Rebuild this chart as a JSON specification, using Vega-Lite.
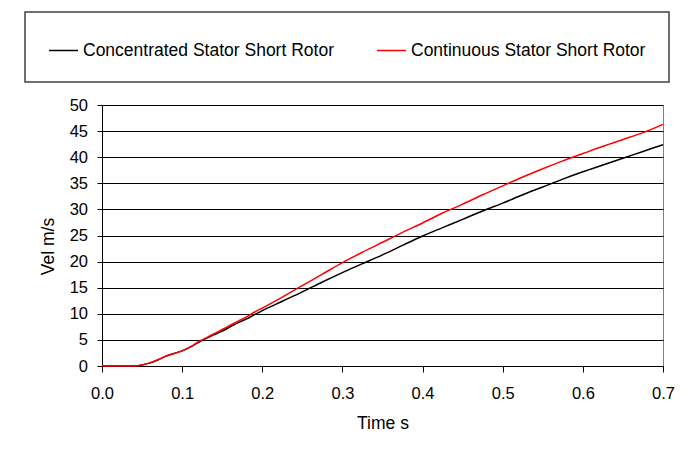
{
  "$schema": "https://vega.github.io/schema/vega-lite/v6.json",
  "width": 561,
  "height": 261,
  "autosize": {"type": "none"},
  "padding": {"left": 102, "top": 105, "right": 31, "bottom": 84},
  "background": "white",
  "data": {
    "values": [
      {"t": 0.000, "v": 0, "s": "Concentrated Stator Short Rotor"},
      {"t": 0.040, "v": 0, "s": "Concentrated Stator Short Rotor"},
      {"t": 0.045, "v": 0.05, "s": "Concentrated Stator Short Rotor"},
      {"t": 0.050, "v": 0.2, "s": "Concentrated Stator Short Rotor"},
      {"t": 0.060, "v": 0.6, "s": "Concentrated Stator Short Rotor"},
      {"t": 0.070, "v": 1.2, "s": "Concentrated Stator Short Rotor"},
      {"t": 0.080, "v": 1.9, "s": "Concentrated Stator Short Rotor"},
      {"t": 0.090, "v": 2.4, "s": "Concentrated Stator Short Rotor"},
      {"t": 0.100, "v": 2.9, "s": "Concentrated Stator Short Rotor"},
      {"t": 0.110, "v": 3.6, "s": "Concentrated Stator Short Rotor"},
      {"t": 0.120, "v": 4.5, "s": "Concentrated Stator Short Rotor"},
      {"t": 0.130, "v": 5.3, "s": "Concentrated Stator Short Rotor"},
      {"t": 0.140, "v": 6.0, "s": "Concentrated Stator Short Rotor"},
      {"t": 0.150, "v": 6.7, "s": "Concentrated Stator Short Rotor"},
      {"t": 0.160, "v": 7.5, "s": "Concentrated Stator Short Rotor"},
      {"t": 0.170, "v": 8.3, "s": "Concentrated Stator Short Rotor"},
      {"t": 0.180, "v": 9.0, "s": "Concentrated Stator Short Rotor"},
      {"t": 0.190, "v": 9.8, "s": "Concentrated Stator Short Rotor"},
      {"t": 0.200, "v": 10.6, "s": "Concentrated Stator Short Rotor"},
      {"t": 0.225, "v": 12.4, "s": "Concentrated Stator Short Rotor"},
      {"t": 0.250, "v": 14.2, "s": "Concentrated Stator Short Rotor"},
      {"t": 0.275, "v": 16.1, "s": "Concentrated Stator Short Rotor"},
      {"t": 0.300, "v": 17.9, "s": "Concentrated Stator Short Rotor"},
      {"t": 0.325, "v": 19.6, "s": "Concentrated Stator Short Rotor"},
      {"t": 0.350, "v": 21.3, "s": "Concentrated Stator Short Rotor"},
      {"t": 0.375, "v": 23.1, "s": "Concentrated Stator Short Rotor"},
      {"t": 0.400, "v": 24.9, "s": "Concentrated Stator Short Rotor"},
      {"t": 0.425, "v": 26.5, "s": "Concentrated Stator Short Rotor"},
      {"t": 0.450, "v": 28.1, "s": "Concentrated Stator Short Rotor"},
      {"t": 0.475, "v": 29.7, "s": "Concentrated Stator Short Rotor"},
      {"t": 0.500, "v": 31.2, "s": "Concentrated Stator Short Rotor"},
      {"t": 0.525, "v": 32.8, "s": "Concentrated Stator Short Rotor"},
      {"t": 0.550, "v": 34.3, "s": "Concentrated Stator Short Rotor"},
      {"t": 0.575, "v": 35.8, "s": "Concentrated Stator Short Rotor"},
      {"t": 0.600, "v": 37.2, "s": "Concentrated Stator Short Rotor"},
      {"t": 0.625, "v": 38.5, "s": "Concentrated Stator Short Rotor"},
      {"t": 0.650, "v": 39.8, "s": "Concentrated Stator Short Rotor"},
      {"t": 0.675, "v": 41.1, "s": "Concentrated Stator Short Rotor"},
      {"t": 0.700, "v": 42.4, "s": "Concentrated Stator Short Rotor"},
      {"t": 0.000, "v": 0, "s": "Continuous Stator Short Rotor"},
      {"t": 0.040, "v": 0, "s": "Continuous Stator Short Rotor"},
      {"t": 0.045, "v": 0.05, "s": "Continuous Stator Short Rotor"},
      {"t": 0.050, "v": 0.2, "s": "Continuous Stator Short Rotor"},
      {"t": 0.060, "v": 0.6, "s": "Continuous Stator Short Rotor"},
      {"t": 0.070, "v": 1.2, "s": "Continuous Stator Short Rotor"},
      {"t": 0.080, "v": 1.9, "s": "Continuous Stator Short Rotor"},
      {"t": 0.090, "v": 2.4, "s": "Continuous Stator Short Rotor"},
      {"t": 0.100, "v": 2.9, "s": "Continuous Stator Short Rotor"},
      {"t": 0.110, "v": 3.6, "s": "Continuous Stator Short Rotor"},
      {"t": 0.120, "v": 4.6, "s": "Continuous Stator Short Rotor"},
      {"t": 0.130, "v": 5.4, "s": "Continuous Stator Short Rotor"},
      {"t": 0.140, "v": 6.2, "s": "Continuous Stator Short Rotor"},
      {"t": 0.150, "v": 7.0, "s": "Continuous Stator Short Rotor"},
      {"t": 0.160, "v": 7.8, "s": "Continuous Stator Short Rotor"},
      {"t": 0.170, "v": 8.6, "s": "Continuous Stator Short Rotor"},
      {"t": 0.180, "v": 9.4, "s": "Continuous Stator Short Rotor"},
      {"t": 0.190, "v": 10.3, "s": "Continuous Stator Short Rotor"},
      {"t": 0.200, "v": 11.1, "s": "Continuous Stator Short Rotor"},
      {"t": 0.225, "v": 13.2, "s": "Continuous Stator Short Rotor"},
      {"t": 0.250, "v": 15.4, "s": "Continuous Stator Short Rotor"},
      {"t": 0.275, "v": 17.6, "s": "Continuous Stator Short Rotor"},
      {"t": 0.300, "v": 19.8, "s": "Continuous Stator Short Rotor"},
      {"t": 0.325, "v": 21.8, "s": "Continuous Stator Short Rotor"},
      {"t": 0.350, "v": 23.7, "s": "Continuous Stator Short Rotor"},
      {"t": 0.375, "v": 25.6, "s": "Continuous Stator Short Rotor"},
      {"t": 0.400, "v": 27.4, "s": "Continuous Stator Short Rotor"},
      {"t": 0.425, "v": 29.3, "s": "Continuous Stator Short Rotor"},
      {"t": 0.450, "v": 31.0, "s": "Continuous Stator Short Rotor"},
      {"t": 0.475, "v": 32.8, "s": "Continuous Stator Short Rotor"},
      {"t": 0.500, "v": 34.5, "s": "Continuous Stator Short Rotor"},
      {"t": 0.525, "v": 36.2, "s": "Continuous Stator Short Rotor"},
      {"t": 0.550, "v": 37.8, "s": "Continuous Stator Short Rotor"},
      {"t": 0.575, "v": 39.3, "s": "Continuous Stator Short Rotor"},
      {"t": 0.600, "v": 40.7, "s": "Continuous Stator Short Rotor"},
      {"t": 0.625, "v": 42.1, "s": "Continuous Stator Short Rotor"},
      {"t": 0.650, "v": 43.4, "s": "Continuous Stator Short Rotor"},
      {"t": 0.675, "v": 44.7, "s": "Continuous Stator Short Rotor"},
      {"t": 0.700, "v": 46.3, "s": "Continuous Stator Short Rotor"}
    ]
  },
  "mark": {"type": "line", "strokeWidth": 1.5, "interpolate": "monotone"},
  "encoding": {
    "x": {
      "field": "t",
      "type": "quantitative",
      "scale": {"domain": [0, 0.7], "nice": false, "zero": false},
      "axis": {
        "title": "Time s",
        "values": [0, 0.1, 0.2, 0.3, 0.4, 0.5, 0.6, 0.7],
        "format": ".1f",
        "grid": false,
        "domainColor": "#000000",
        "tickColor": "#000000",
        "tickSize": 6,
        "labelFontSize": 16.5,
        "labelColor": "#000000",
        "labelBaseline": "alphabetic",
        "labelPadding": 26,
        "labelFlush": false,
        "labelOverlap": false,
        "titleFontSize": 17.5,
        "titleFontWeight": "normal",
        "titleColor": "#000000",
        "titleBaseline": "alphabetic",
        "titleY": 62
      }
    },
    "y": {
      "field": "v",
      "type": "quantitative",
      "scale": {"domain": [0, 50], "nice": false},
      "axis": {
        "title": "Vel m/s",
        "values": [0, 5, 10, 15, 20, 25, 30, 35, 40, 45, 50],
        "grid": true,
        "gridColor": "#000000",
        "gridOpacity": 1,
        "gridWidth": 1,
        "domainColor": "#000000",
        "tickColor": "#000000",
        "tickSize": 5,
        "labelFontSize": 16.5,
        "labelColor": "#000000",
        "labelPadding": 9.5,
        "labelFlush": false,
        "labelOverlap": false,
        "titleFontSize": 17.5,
        "titleFontWeight": "normal",
        "titleColor": "#000000",
        "titleAngle": 270,
        "titleBaseline": "alphabetic",
        "titleAlign": "center",
        "titleX": -49,
        "titleY": 141
      }
    },
    "color": {
      "field": "s",
      "type": "nominal",
      "sort": null,
      "scale": {
        "domain": ["Concentrated Stator Short Rotor", "Continuous Stator Short Rotor"],
        "range": ["#000000", "#ff0000"]
      },
      "legend": {
        "title": null,
        "orient": "none",
        "legendX": -77,
        "legendY": -93,
        "direction": "horizontal",
        "gridAlign": "all",
        "strokeColor": "#404040",
        "padding": 23,
        "symbolType": "stroke",
        "symbolSize": 841,
        "symbolStrokeWidth": 1.5,
        "labelFontSize": 17.5,
        "labelColor": "#000000",
        "labelOffset": 4,
        "columnPadding": 40,
        "labelLimit": 400,
        "encode": {"legend": {"update": {"strokeWidth": {"value": 1.5}}}}
      }
    }
  },
  "config": {
    "font": "Liberation Sans",
    "view": {"stroke": "#808080", "strokeWidth": 1}
  }
}
